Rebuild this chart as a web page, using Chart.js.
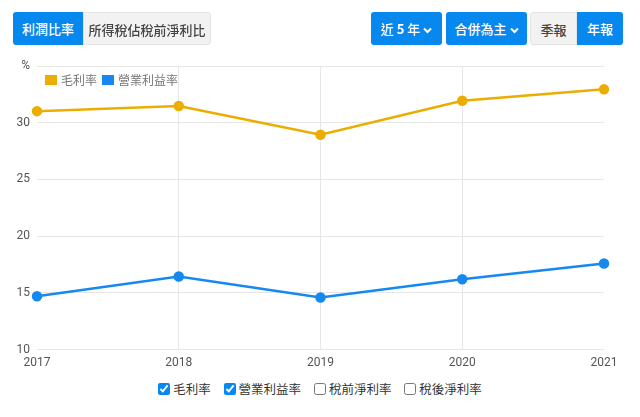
<!DOCTYPE html>
<html>
<head>
<meta charset="utf-8">
<script src="https://cdn.jsdelivr.net/npm/chart.js@4"></script>
<style>
  body { margin: 0; background: #fff; font-family: "Noto Sans CJK TC", "Noto Sans", sans-serif; }
  #wrap { position: relative; width: 640px; height: 417px; overflow: hidden; }
  .btn { position: absolute; top: 12px; height: 33px; line-height: 33px; font-size: 13px; text-align: center;
         box-sizing: border-box; border-radius: 3px; font-weight: 500; }
  .blue { background: #0788ee; color: #fff; }
  .grey { background: #f2f2f2; color: #444; border: 1px solid #e4e4e4; }
  .btn svg { vertical-align: 0px; margin-left: 3px; }
  #chartBox { position: absolute; left: 0; top: 0; width: 640px; height: 376px; }
  #checks { position: absolute; top: 379px; left: 0; width: 640px; text-align: center; font-size: 12.5px; color: #333; }
  #checks label { margin: 0 5px; }
  #checks input { margin: 0 3px 0 0; width: 12px; height: 12px; vertical-align: -1px; accent-color: #0788ee; }
</style>
</head>
<body>
<div id="wrap">
  <div id="chartBox"><canvas id="profitChart"></canvas></div>
  <div class="btn blue" style="left:13px;width:70px;border-radius:3px 0 0 3px;">利潤比率</div>
  <div class="btn grey" style="left:83px;width:128px;border-radius:0 3px 3px 0;">所得稅佔稅前淨利比</div>
  <div class="btn blue" style="left:371px;width:71px;">近 <b>5</b> 年<svg width="9" height="7" viewBox="0 0 9 7"><path d="M1 1.5 L4.5 5 L8 1.5" stroke="#fff" stroke-width="2" fill="none"/></svg></div>
  <div class="btn blue" style="left:446px;width:81px;">合併為主<svg width="9" height="7" viewBox="0 0 9 7"><path d="M1 1.5 L4.5 5 L8 1.5" stroke="#fff" stroke-width="2" fill="none"/></svg></div>
  <div class="btn grey" style="left:530px;width:47px;border-radius:3px 0 0 3px;">季報</div>
  <div class="btn blue" style="left:577px;width:46px;border-radius:0 3px 3px 0;">年報</div>
  <div id="checks">
    <label><input type="checkbox" checked>毛利率</label>
    <label><input type="checkbox" checked>營業利益率</label>
    <label><input type="checkbox">稅前淨利率</label>
    <label><input type="checkbox">稅後淨利率</label>
  </div>
</div>
<script>
const years = ['2017', '2018', '2019', '2020', '2021'];
const grossMargin = [31.02, 31.47, 28.94, 31.94, 32.94];
const operatingMargin = [14.70, 16.44, 14.59, 16.20, 17.59];
const yTicks = [10, 15, 20, 25, 30, 35];

const gold = '#ebad00';
const blue = '#1589f0';

// legend drawn inside the plot area, top-left
const innerLegend = {
    id: 'innerLegend',
    afterDraw(chart) {
        const c = chart.ctx;
        const area = chart.chartArea;
        let x = area.left + 8;
        const y = area.top + 14;
        c.save();
        c.font = '12px "Noto Sans CJK TC", sans-serif';
        c.textBaseline = 'middle';
        chart.data.datasets.forEach(ds => {
            c.fillStyle = ds.borderColor;
            c.fillRect(x, y - 5, 12, 10);
            x += 16;
            c.fillStyle = '#777';
            c.fillText(ds.label, x, y + 0.5);
            x += c.measureText(ds.label).width + 5;
        });
        c.restore();
    }
};

const ctx = document.getElementById('profitChart').getContext('2d');
const chart = new Chart(ctx, {
    type: 'line',
    data: {
        labels: years,
        datasets: [{
            label: '毛利率',
            data: grossMargin,
            borderColor: gold,
            backgroundColor: gold,
            borderWidth: 2.5,
            pointRadius: 4,
            pointHoverRadius: 4,
            tension: 0
        }, {
            label: '營業利益率',
            data: operatingMargin,
            borderColor: blue,
            backgroundColor: blue,
            borderWidth: 2.5,
            pointRadius: 4,
            pointHoverRadius: 4,
            tension: 0
        }]
    },
    options: {
        responsive: true,
        maintainAspectRatio: false,
        animation: false,
        layout: { padding: { top: 66, right: 36, left: 0, bottom: 0 } },
        plugins: {
            tooltip: { enabled: false },
            legend: { display: false }
        },
        scales: {
            x: {
                offset: false,
                border: { display: false },
                grid: {
                    drawTicks: false,
                    color: c => (c.index === 0 || c.index === years.length - 1) ? 'rgba(0,0,0,0)' : '#e6e6e6'
                },
                ticks: { color: '#555', padding: 6, maxRotation: 0, font: { size: 12, family: 'Roboto, sans-serif' } }
            },
            y: {
                min: yTicks[0],
                max: yTicks[yTicks.length - 1],
                border: { display: false },
                grid: { drawTicks: false, color: '#e6e6e6' },
                afterBuildTicks: axis => { axis.ticks = yTicks.map(v => ({ value: v })); },
                afterFit: axis => { axis.width = 37; },
                ticks: {
                    color: '#555',
                    padding: 7,
                    font: { size: 12, family: 'Roboto, sans-serif' },
                    callback: v => v === 35 ? '%' : v
                }
            }
        }
    },
    plugins: [innerLegend]
});
</script>
</body>
</html>
